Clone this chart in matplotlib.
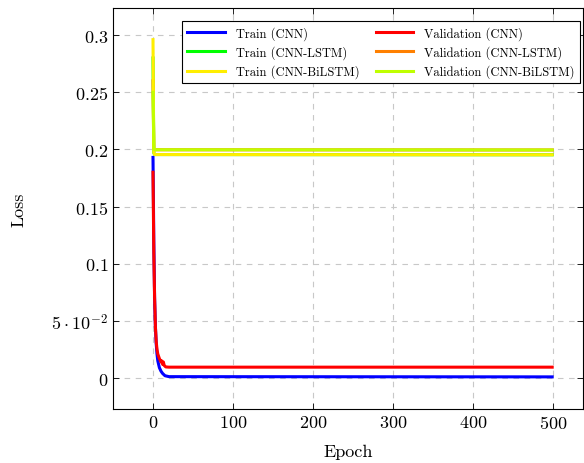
import matplotlib
matplotlib.use('Agg')
import matplotlib.pyplot as plt

matplotlib.rcParams['font.family'] = 'serif'
matplotlib.rcParams['font.serif'] = ['cmr10', 'DejaVu Serif']
matplotlib.rcParams['mathtext.fontset'] = 'cm'
matplotlib.rcParams['axes.formatter.use_mathtext'] = True

# 读图估计的损失曲线（关键点）
ep_cnn_tr = [0, 1, 2, 3, 4, 5, 6, 8, 10, 12, 15, 20, 499]
loss_cnn_tr = [0.193, 0.12, 0.07, 0.045, 0.03, 0.021, 0.015, 0.009, 0.006, 0.004, 0.002, 0.0012, 0.001]
ep_cnn_va = [0, 1, 2, 3, 4, 5, 6, 8, 10, 11, 12, 13, 14, 16, 20, 499]
loss_cnn_va = [0.180, 0.11, 0.07, 0.045, 0.032, 0.025, 0.021, 0.017, 0.014, 0.015, 0.012, 0.014, 0.011, 0.0097, 0.0095, 0.0095]
ep_lstm_tr = [0, 1, 2, 499]
loss_lstm_tr = [0.28, 0.197, 0.1955, 0.1953]
ep_lstm_va = [0, 1, 2, 499]
loss_lstm_va = [0.26, 0.201, 0.1997, 0.1995]
ep_bilstm_tr = [0, 1, 2, 499]
loss_bilstm_tr = [0.296, 0.197, 0.1955, 0.1953]
ep_bilstm_va = [0, 1, 2, 499]
loss_bilstm_va = [0.25, 0.201, 0.1997, 0.1995]

labels = ['Train (CNN)', 'Validation (CNN)', 'Train (CNN-LSTM)',
          'Validation (CNN-LSTM)', 'Train (CNN-BiLSTM)', 'Validation (CNN-BiLSTM)']
colors = ['#0000ff', '#ff0000', '#00ff00', '#ff8000', '#ffee00', '#bfff00']
series = [(ep_cnn_tr, loss_cnn_tr), (ep_cnn_va, loss_cnn_va),
          (ep_lstm_tr, loss_lstm_tr), (ep_lstm_va, loss_lstm_va),
          (ep_bilstm_tr, loss_bilstm_tr), (ep_bilstm_va, loss_bilstm_va)]

fig = plt.figure(figsize=(5.84, 4.64), dpi=100)
ax = fig.add_axes([113 / 584, 54 / 464, 470 / 584, 401 / 464])

handles = []
for (x, y), lab, c in zip(series, labels, colors):
    h, = ax.plot(x, y, color=c, linewidth=2.2, label=lab)
    handles.append(h)

ax.set_xlim(-50, 537.5)
ax.set_ylim(-0.0271, 0.3237)
ax.set_xticks([0, 100, 200, 300, 400, 500])
ax.set_xticklabels(['$0$', '$100$', '$200$', '$300$', '$400$', '$500$'])
yt = [0, 0.05, 0.1, 0.15, 0.2, 0.25, 0.3]
ax.set_yticks(yt)
ax.set_yticklabels(['$0$', r'$5\cdot10^{-2}$', '$0.1$', '$0.15$', '$0.2$', '$0.25$', '$0.3$'])
ax.tick_params(axis='both', direction='in', top=True, right=True, labelsize=13, length=4, width=0.6)
ax.grid(True, linestyle=(0, (5, 5)), color='#c8c8c8', linewidth=0.8)
for s in ax.spines.values():
    s.set_linewidth(0.8)

ax.set_xlabel('Epoch', fontsize=13, labelpad=9)
ax.set_ylabel('Loss', fontsize=13, labelpad=18)

# 图例按行排列（pgfplots 风格）
order = [0, 2, 4, 1, 3, 5]
leg = ax.legend([handles[i] for i in order], [labels[i] for i in order], ncol=2,
                loc='upper right', bbox_to_anchor=(0.9936, 0.9676), fontsize=9,
                frameon=True, fancybox=False, edgecolor='black', framealpha=1,
                handlelength=3.0, handletextpad=0.9, columnspacing=1.3,
                borderpad=0.4, labelspacing=0.45, borderaxespad=0)
leg.get_frame().set_linewidth(0.8)

fig.savefig('out.png', dpi=100)
